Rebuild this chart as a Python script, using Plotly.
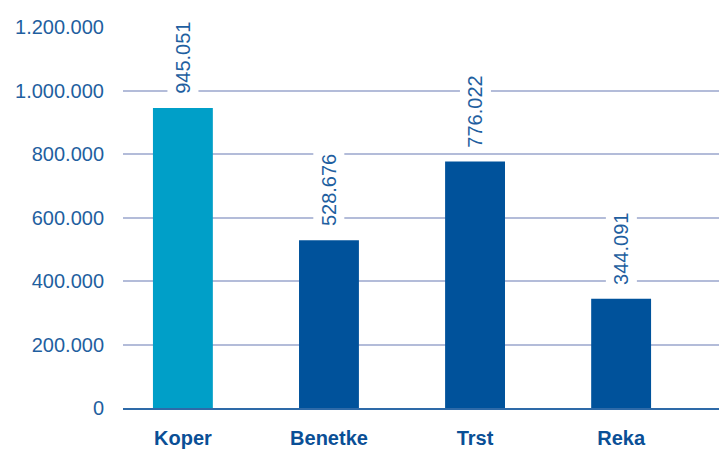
import plotly.graph_objects as go

# Port throughput by port
ports = ["Koper", "Benetke", "Trst", "Reka"]
values = [945051, 528676, 776022, 344091]
value_labels = ["945.051", "528.676", "776.022", "344.091"]
bar_colors = ["#009fc8", "#00529b", "#00529b", "#00529b"]

y_ticks = [0, 200000, 400000, 600000, 800000, 1000000, 1200000]
y_tick_labels = ["0", "200.000", "400.000", "600.000", "800.000", "1.000.000", "1.200.000"]

FONT = "Liberation Sans, Arial, sans-serif"

fig = go.Figure()
fig.add_trace(go.Bar(
    x=ports,
    y=values,
    marker=dict(color=bar_colors, line=dict(width=0)),
    width=0.41,
    hoverinfo="skip",
))

# Rotated value labels above each bar, on a white box that masks the grid
for p, v, lab in zip(ports, values, value_labels):
    fig.add_annotation(
        x=p, y=v, text=lab, textangle=-90,
        showarrow=False, xanchor="center", yanchor="bottom",
        yshift=9, bgcolor="white", borderpad=4,
        font=dict(family=FONT, size=20, color="#1f5fa0"),
    )

fig.update_layout(
    width=719, height=449,
    margin=dict(l=123, r=0, t=27, b=38),
    paper_bgcolor="white", plot_bgcolor="white",
    showlegend=False,
    xaxis=dict(
        range=[-0.41, 3.67],
        showgrid=False,
        showline=True, linecolor="#2e6aa8", linewidth=1.5,
        ticks="", ticklabelstandoff=11,
        tickfont=dict(family=FONT, size=20, color="#0a4f96", weight="bold"),
        fixedrange=True,
    ),
    yaxis=dict(
        range=[0, 1200000],
        tickvals=y_ticks, ticktext=y_tick_labels,
        showgrid=True, gridcolor="#b3bcd9", gridwidth=1.5,
        zeroline=False, showline=False,
        ticks="", ticklabelstandoff=18,
        tickfont=dict(family=FONT, size=20, color="#1f5fa0"),
        fixedrange=True,
    ),
)

fig.write_html("out.html")
